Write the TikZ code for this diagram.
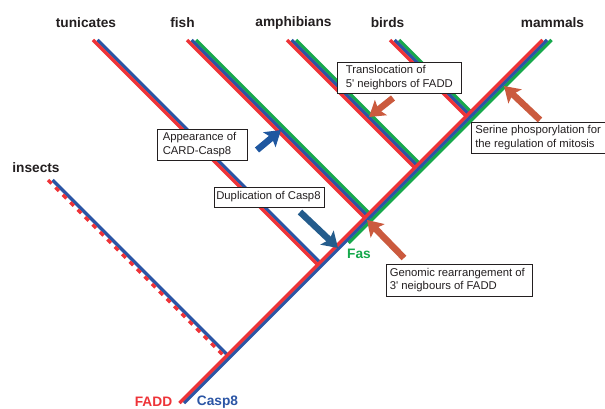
\documentclass[tikz,border=0pt]{standalone}
\usepackage{fontspec}
\setmainfont{Liberation Sans}[Ligatures=TeXOff]
\usetikzlibrary{arrows.meta}
\definecolor{cred}{HTML}{EE3338}
\definecolor{cblue}{HTML}{2B55A5}
\definecolor{cgreen}{HTML}{16A84C}
\definecolor{ablue}{HTML}{1F57A0}
\definecolor{dblue}{HTML}{245C8C}
\definecolor{aorange}{HTML}{CB5A3E}
\definecolor{ink}{HTML}{231F20}
\begin{document}
\begin{tikzpicture}[x=1pt,y=-1pt,
  tr/.style={line width=3.3pt},
  taxon/.style={font=\fontsize{13.7}{16}\selectfont\bfseries, text=ink, inner sep=0pt},
  gene/.style={font=\fontsize{13.7}{16}\selectfont\bfseries, inner sep=0pt},
  boxframe/.style={draw=ink, line width=0.8pt, fill=white, inner sep=0pt},
  boxtext/.style={font=\fontsize{11.3}{13.5}\selectfont, text=ink, align=left, anchor=west, inner sep=0pt},
  bigarrow/.style={line width=6.5pt, -{Stealth[length=15pt,width=19pt,inset=3pt]}}
]
\fill[white] (0,0) rectangle (605,409);
\useasboundingbox (0,0) rectangle (605,409);
% skeleton (blue) coordinates
\coordinate (B0) at (184,403);
\coordinate (Jins) at (229.75,357.25);
\coordinate (Jtun) at (322.25,264.75);
\coordinate (Jfish) at (369.25,217.75);
\coordinate (Jamph) at (419.25,167.75);
\coordinate (Jbird) at (470.75,116.25);
\coordinate (Tmam) at (547,40);
\coordinate (Tins) at (52.5,180);
\coordinate (Ttun) at (97.5,40);
\coordinate (Tfish) at (191.5,40);
\coordinate (Tamph) at (291.5,40);
\coordinate (Tbird) at (394.5,40);
\coordinate (Gs) at (344,243);
% green (Fas)
\draw[tr,cgreen] ([xshift=4.5pt]Gs) -- ([xshift=4.5pt]Tmam);
\draw[tr,cgreen] ([xshift=4.5pt]Tfish) -- ([xshift=4.5pt]Jfish);
\draw[tr,cgreen] ([xshift=4.5pt]Tamph) -- ([xshift=4.5pt]Jamph);
\draw[tr,cgreen] ([xshift=4.5pt]Tbird) -- ([xshift=4.5pt]Jbird);
% blue (Casp8)
\draw[tr,cblue] (B0) -- (Tmam);
\draw[tr,cblue] (Tins) -- (Jins);
\draw[tr,cblue] (Ttun) -- (Jtun);
\draw[tr,cblue] (Tfish) -- (Jfish);
\draw[tr,cblue] (Tamph) -- (Jamph);
\draw[tr,cblue] (Tbird) -- (Jbird);
% red (FADD)
\draw[tr,cred] ([xshift=-4.5pt]B0) -- ([xshift=-4.5pt]Tmam);
\draw[tr,cred,dash pattern=on 5pt off 5.5pt] ([xshift=-4.5pt]Tins) -- ([xshift=-4.5pt]Jins);
\draw[tr,cred] ([xshift=-4.5pt]Ttun) -- ([xshift=-4.5pt]Jtun);
\draw[tr,cred] ([xshift=-4.5pt]Tfish) -- ([xshift=-4.5pt]Jfish);
\draw[tr,cred] ([xshift=-4.5pt]Tamph) -- ([xshift=-4.5pt]Jamph);
\draw[tr,cred] ([xshift=-4.5pt]Tbird) -- ([xshift=-4.5pt]Jbird);
% taxa labels
\node[taxon] (ltun) at (86,23) {tunicates};
\node[taxon] (lfish) at (182.5,23) {fish};
\node[taxon] (lamph) at (293.5,23) {amphibians};
\node[taxon] (lbird) at (387.5,23) {birds};
\node[taxon] (lmam) at (552.5,23) {mammals};
\node[taxon] (lins) at (36,168) {insects};
\node[gene,text=cred] (lfadd) at (153.5,402) {FADD};
\node[gene,text=cblue] (lcasp) at (217.5,402) {Casp8};
\node[gene,text=cgreen] (lfas) at (359,254) {Fas};
% boxes
\node[boxframe, minimum width=90pt, minimum height=31pt] (b1) at (202,144.5) {};
\node[boxtext] (t1) at ([xshift=6pt]b1.west) {Appearance of\\CARD-Casp8};
\node[boxframe, minimum width=110pt, minimum height=20pt] (b2) at (269,197) {};
\node[boxtext] (t2) at ([xshift=2.5pt]b2.west) {Duplication of Casp8};
\node[boxframe, minimum width=124pt, minimum height=31pt] (b3) at (399,77.5) {};
\node[boxtext] (t3) at ([xshift=9pt]b3.west) {Translocation of\\5' neighbors of FADD};
\node[boxframe, minimum width=142pt, minimum height=31pt] (b4) at (542,137.5) {};
\node[boxtext] (t4) at ([xshift=4.5pt]b4.west) {Serine phosporylation for\\the regulation of mitosis};
\node[boxframe, minimum width=146pt, minimum height=32pt] (b5) at (459,280) {};
\node[boxtext] (t5) at ([xshift=4pt]b5.west) {Genomic rearrangement of\\3' neigbours of FADD};
% arrows
\coordinate (a1s) at (257,150); \coordinate (a1e) at (281,130);
\coordinate (a2s) at (300,212); \coordinate (a2e) at (338,248);
\coordinate (a3s) at (393,98);  \coordinate (a3e) at (369,117);
\coordinate (a4s) at (540,120); \coordinate (a4e) at (504,86);
\coordinate (a5s) at (404,258); \coordinate (a5e) at (367,220);
\draw[bigarrow,ablue] (a1s) -- (a1e);
\draw[bigarrow,dblue] (a2s) -- (a2e);
\draw[bigarrow,aorange] (a3s) -- (a3e);
\draw[bigarrow,aorange] (a4s) -- (a4e);
\draw[bigarrow,aorange] (a5s) -- (a5e);
\end{tikzpicture}
\end{document}
